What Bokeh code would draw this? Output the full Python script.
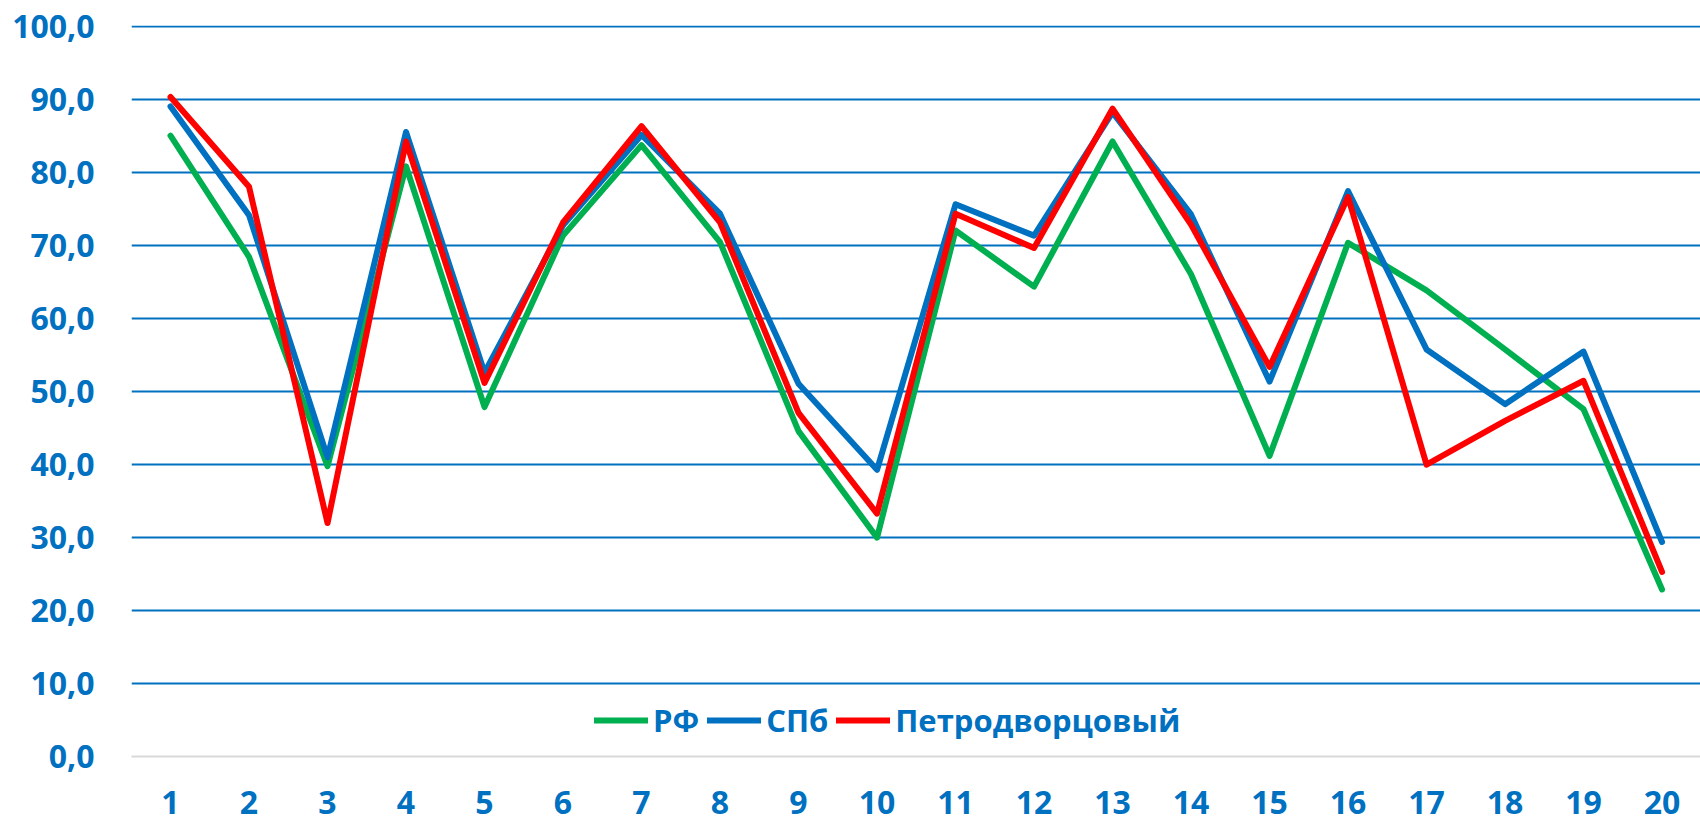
from bokeh.plotting import figure
from bokeh.models import Range1d, FixedTicker, ColumnDataSource
from bokeh.embed import file_html
from bokeh.resources import INLINE

categories = list(range(1, 21))
rf = [85.1, 68.5, 39.8, 80.9, 47.9, 71.4, 83.8, 70.5, 44.6, 30.0,
      72.1, 64.4, 84.3, 66.1, 41.2, 70.4, 63.9, 55.8, 47.6, 22.9]
spb = [89.1, 74.2, 41.0, 85.6, 52.6, 72.8, 85.2, 74.4, 51.1, 39.3,
       75.7, 71.4, 88.3, 74.3, 51.4, 77.5, 55.8, 48.3, 55.5, 29.4]
petro = [90.4, 78.1, 32.0, 84.3, 51.2, 73.2, 86.4, 73.2, 47.1, 33.3,
         74.4, 69.7, 88.8, 72.9, 53.4, 76.7, 40.0, 46.0, 51.5, 25.3]
series_names = ["РФ", "СПб", "Петродворцовый"]
series_colors = ["#00B050", "#0070C0", "#FF0000"]
y_ticks = [0, 10, 20, 30, 40, 50, 60, 70, 80, 90, 100]

FONT = "Open Sans"
BLUE = "#0070C0"

p = figure(width=1700, height=822, output_backend="svg", toolbar_location=None,
           x_range=Range1d(0.503, 20.49), y_range=Range1d(0, 100.2),
           min_border_left=131, min_border_right=0, min_border_top=25,
           min_border_bottom=66)
p.outline_line_color = None
p.background_fill_color = "white"
p.border_fill_color = "white"

p.xgrid.visible = False
p.ygrid.ticker = FixedTicker(ticks=y_ticks[1:])
p.ygrid.grid_line_color = BLUE
p.ygrid.grid_line_width = 2

src = ColumnDataSource(dict(x=categories, rf=rf, spb=spb, petro=petro))
for col, name, color in zip(["rf", "spb", "petro"], series_names, series_colors):
    p.line("x", col, source=src, line_color=color, line_width=6,
           line_join="round", line_cap="round", legend_label=name)

p.yaxis.ticker = FixedTicker(ticks=y_ticks)
p.yaxis.major_label_overrides = {t: f"{t:.1f}".replace(".", ",") for t in y_ticks}
p.xaxis.ticker = FixedTicker(ticks=categories)

for ax in (p.xaxis[0], p.yaxis[0]):
    ax.major_tick_line_color = None
    ax.minor_tick_line_color = None
    ax.major_tick_out = 0
    ax.major_tick_in = 0
    ax.major_label_text_font = FONT
    ax.major_label_text_font_style = "bold"
    ax.major_label_text_font_size = "32px"
    ax.major_label_text_color = BLUE
    ax.major_label_text_line_height = 0.7

p.yaxis.axis_line_color = None
p.yaxis.major_label_standoff = 37
p.xaxis.axis_line_color = "#D9D9D9"
p.xaxis.axis_line_width = 2
p.xaxis.major_label_standoff = 34

lg = p.legend[0]
lg.orientation = "horizontal"
lg.location = (463, 15)
lg.glyph_width = 54
lg.glyph_height = 36
lg.label_height = 36
lg.label_standoff = 5
lg.spacing = 8
lg.padding = 0
lg.margin = 0
lg.border_line_color = None
lg.background_fill_alpha = 0
lg.label_text_font = FONT
lg.label_text_font_style = "bold"
lg.label_text_font_size = "31px"
lg.label_text_color = BLUE

open("out.html", "w").write(file_html(p, INLINE))
